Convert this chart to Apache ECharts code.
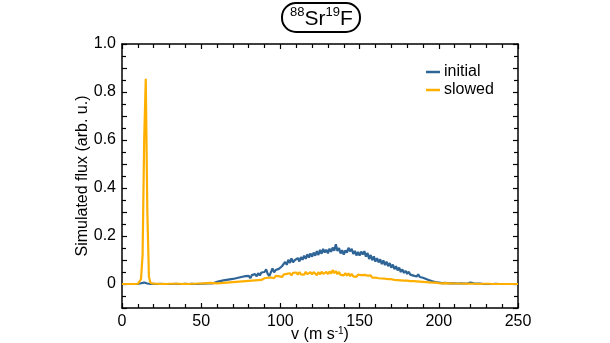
<!DOCTYPE html>
<html><head><meta charset="utf-8">
<script src="https://cdn.jsdelivr.net/npm/echarts@6/dist/echarts.min.js"></script>
<style>html,body{margin:0;padding:0;background:#fff}#c{width:610px;height:343px}</style>
</head><body><div id="c"></div>
<script>
// velocity grid (m/s), step 1
const velocity = [];
for (let v = 0; v <= 250; v++) velocity.push(v);

const initialFlux = [
0,0,0,0,0,0,0,0,0,0,0,
0.001,0.003,0.005,0.006,0.005,0.002,0.000,
0,0,0.001,0,0,0,0.001,0,0,0,0,0.001,0,0,0,0,0.001,0,0,0,0,0,0.001,0,0,0,0.001,0,0,0.001,0,0.001,
0.001,0.002,0.001,0.003,0.002,0.004,0.003,0.005,0.004,0.007,
0.009,0.004,0.012,0.007,0.015,0.010,0.017,0.011,0.019,0.014,
0.021,0.013,0.024,0.016,0.027,0.019,0.030,0.022,0.033,0.025,
0.034,0.024,0.037,0.029,0.041,0.032,0.045,0.036,0.048,0.040,
0.050,0.061,0.042,0.033,0.038,0.065,0.049,0.058,0.052,0.063,
0.058,0.074,0.068,0.092,0.080,0.101,0.088,0.107,0.090,0.099,
0.092,0.108,0.094,0.112,0.101,0.118,0.105,0.124,0.110,0.127,
0.114,0.131,0.118,0.137,0.121,0.142,0.126,0.146,0.131,0.143,
0.128,0.147,0.134,0.152,0.139,0.166,0.137,0.150,0.127,0.141,
0.122,0.140,0.131,0.151,0.136,0.147,0.125,0.138,0.119,0.134,
0.118,0.135,0.123,0.137,0.114,0.129,0.104,0.121,0.099,0.115,
0.093,0.108,0.090,0.103,0.083,0.098,0.079,0.093,0.074,0.087,
0.068,0.081,0.062,0.074,0.057,0.068,0.050,0.061,0.046,0.055,
0.042,0.051,0.039,0.047,0.035,0.043,0.031,0.040,0.029,0.036,
0.026,0.033,0.021,0.027,0.016,0.020,0.011,0.014,0.008,0.010,
0.006,0.009,0.004,0.008,0.005,0.007,0.003,0.006,0.004,0.005,
0.003,0.006,0.002,0.005,0.003,0.004,0.002,0.005,0.002,0.003,
0.006,0.002,0.003,0.001,0.002,0.001,0.002,0.001,0.000,0.001,
0,0.001,0,0,0,0,0.001,0,0,0,0,0,0,0.001,0,0,0,0,0,0,0
];

const slowedFlux = [
0,0,0,0,0,0,0,0,0,0,
0.001,0.004,0.020,0.120,0.600,0.855,0.300,0.030,0.004,0.001,
0.001,0,0.001,0.001,0,0.001,0.001,0.001,0,0.001,0.001,0,0.001,0.001,0.001,0,0.001,0.001,0,0.001,0.001,0.001,0,0.001,0.001,0.002,0.001,0.001,0.002,0.001,
0.002,0.000,0.003,0.001,0.004,0.001,0.005,0.002,0.004,0.006,
0.003,0.007,0.004,0.008,0.005,0.009,0.006,0.010,0.007,0.011,
0.008,0.012,0.009,0.014,0.010,0.015,0.011,0.016,0.012,0.017,
0.013,0.018,0.014,0.019,0.015,0.021,0.016,0.022,0.017,0.021,
0.024,0.018,0.026,0.020,0.027,0.032,0.024,0.034,0.026,0.033,
0.036,0.029,0.039,0.032,0.042,0.034,0.045,0.036,0.046,0.038,
0.048,0.039,0.050,0.040,0.047,0.039,0.051,0.041,0.038,0.049,
0.040,0.050,0.042,0.037,0.049,0.040,0.051,0.042,0.038,0.050,
0.041,0.052,0.043,0.058,0.045,0.054,0.041,0.050,0.038,0.046,
0.036,0.045,0.035,0.044,0.033,0.042,0.032,0.040,0.030,0.039,
0.031,0.037,0.029,0.038,0.030,0.035,0.027,0.036,0.026,0.032,
0.027,0.033,0.024,0.031,0.023,0.029,0.022,0.027,0.020,0.025,
0.020,0.026,0.017,0.024,0.016,0.022,0.015,0.021,0.014,0.019,
0.014,0.019,0.012,0.018,0.012,0.016,0.011,0.015,0.010,0.014,
0.009,0.014,0.008,0.012,0.007,0.011,0.006,0.010,0.006,0.009,
0.004,0.008,0.003,0.007,0.004,0.006,0.003,0.006,0.003,0.005,
0.002,0.005,0.002,0.004,0.002,0.004,0.001,0.004,0.002,0.003,
0.001,0.003,0.001,0.002,0.001,0.002,0.000,0.002,0.001,0.001,
0.001,0,0.001,0,0,0.001,0,0,0,0.001,0,0,0,0,0,0,0,0,0,0,0
];

const seriesNames = ['initial', 'slowed'];
const xTicks = [0, 50, 100, 150, 200, 250];
const yTicks = [0, 0.2, 0.4, 0.6, 0.8, 1.0];

const FONT = 'Liberation Sans, Arial, Helvetica, sans-serif';
const chart = echarts.init(document.getElementById('c'), null, {renderer: 'canvas'});
const pair = arr => velocity.map((v, i) => [v, arr[i]]);
const axisLine = {show: true, onZero: false, lineStyle: {color: '#000', width: 1.5}};
const tickStyle = {color: '#000', width: 1.2};

chart.setOption({
  animation: false,
  backgroundColor: '#fff',
  title: {
    text: '{sup|88}{n|Sr}{sup|19}{n|F}',
    left: 282, top: 3,
    padding: [3, 8, 2, 8],
    borderColor: '#000', borderWidth: 2, borderRadius: 14,
    textStyle: {
      fontWeight: 'normal',
      rich: {
        n: {fontFamily: FONT, fontSize: 21, fontWeight: 'normal', color: '#000', verticalAlign: 'bottom', lineHeight: 24},
        sup: {fontFamily: FONT, fontSize: 13, fontWeight: 'normal', color: '#000', verticalAlign: 'top', lineHeight: 24, padding: [0, 0, 8, 0]}
      }
    }
  },
  legend: {
    orient: 'vertical', left: 421, top: 59, itemGap: 2,
    icon: 'rect', itemWidth: 14, itemHeight: 2.5,
    textStyle: {fontFamily: FONT, fontSize: 16, color: '#000', lineHeight: 16, padding: [0, 0, 0, -1]},
    data: seriesNames
  },
  grid: {left: 122, right: 92, top: 44, bottom: 35, outerBoundsMode: 'none', containLabel: false},
  xAxis: [{
    type: 'value', min: 0, max: 250, interval: 50, position: 'bottom',
    name: '{a|v (m s}{s|-1}{a|)}', nameLocation: 'middle', nameGap: 18, nameMoveOverlap: false,
    nameTextStyle: {rich: {
      a: {fontFamily: FONT, fontSize: 16, color: '#000'},
      s: {fontFamily: FONT, fontSize: 10, color: '#000', verticalAlign: 'top', padding: [0, 0, 8, 0]}
    }},
    axisLine: axisLine,
    axisTick: {show: true, inside: true, length: 5, lineStyle: tickStyle},
    minorTick: {show: true, splitNumber: 5, length: 4, lineStyle: tickStyle},
    axisLabel: {fontFamily: FONT, fontSize: 16, color: '#000', margin: 6,
      formatter: v => xTicks.includes(v) ? String(v) : ''},
    splitLine: {show: false}, minorSplitLine: {show: false}
  }, {
    type: 'value', min: 0, max: 250, interval: 50, position: 'top',
    axisLine: axisLine,
    axisTick: {show: true, inside: true, length: 5, lineStyle: tickStyle},
    minorTick: {show: true, splitNumber: 5, length: 4, lineStyle: tickStyle},
    axisLabel: {show: false}, splitLine: {show: false}
  }],
  yAxis: [{
    type: 'value', min: -0.1, max: 1.0, interval: 0.1, position: 'left',
    name: 'Simulated flux (arb. u.)', nameLocation: 'middle', nameGap: 31, nameMoveOverlap: false,
    nameTextStyle: {fontFamily: FONT, fontSize: 16, color: '#000'},
    axisLine: axisLine,
    axisTick: {show: true, inside: true, length: 5, lineStyle: tickStyle},
    minorTick: {show: true, splitNumber: 2, length: 4, lineStyle: tickStyle},
    axisLabel: {fontFamily: FONT, fontSize: 16, color: '#000', margin: 6,
      formatter: v => {
        const t = yTicks.find(y => Math.abs(y - v) < 1e-6);
        if (t === undefined) return '';
        return t === 0 ? '0' : t.toFixed(1);
      }},
    splitLine: {show: false}
  }, {
    type: 'value', min: -0.1, max: 1.0, interval: 0.1, position: 'right',
    axisLine: axisLine,
    axisTick: {show: true, inside: true, length: 5, lineStyle: tickStyle},
    minorTick: {show: true, splitNumber: 2, length: 4, lineStyle: tickStyle},
    axisLabel: {show: false}, splitLine: {show: false}
  }],
  series: [{
    name: seriesNames[0], type: 'line', data: pair(initialFlux),
    xAxisIndex: 0, yAxisIndex: 0, showSymbol: false, symbol: 'none',
    lineStyle: {color: '#2e6596', width: 2.2}, itemStyle: {color: '#2e6596'}
  }, {
    name: seriesNames[1], type: 'line', data: pair(slowedFlux),
    xAxisIndex: 0, yAxisIndex: 0, showSymbol: false, symbol: 'none',
    lineStyle: {color: '#ffaf00', width: 2.2}, itemStyle: {color: '#ffaf00'}
  }]
});
</script></body></html>
